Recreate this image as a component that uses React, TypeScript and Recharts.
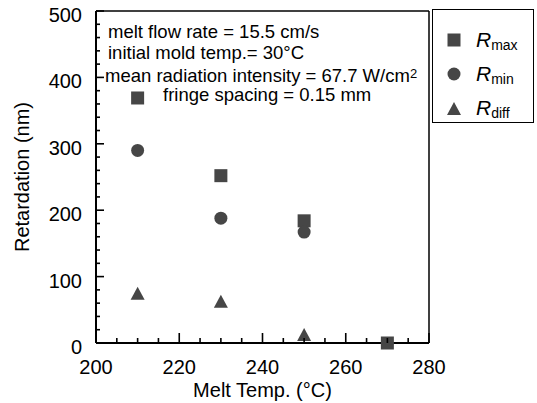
import { ScatterChart, Scatter, XAxis, YAxis, Legend } from 'recharts'

const TEMP_MAX = [210, 230, 250, 270]
const R_MAX = [369, 252, 184, 0]
const TEMP_MIN = [210, 230, 250]
const R_MIN = [290, 188, 167]
const TEMP_DIFF = [210, 230, 250]
const R_DIFF = [74, 62, 12]

const X_TICKS = [200, 205, 210, 215, 220, 225, 230, 235, 240, 245, 250, 255, 260, 265, 270, 275, 280]
const X_LABELS = [200, 220, 240, 260, 280]
const Y_TICKS = [0, 20, 40, 60, 80, 100, 120, 140, 160, 180, 200, 220, 240, 260, 280, 300, 320, 340, 360, 380, 400, 420, 440, 460, 480, 500]
const Y_LABELS = [0, 100, 200, 300, 400, 500]

const SERIES = ['Rmax', 'Rmin', 'Rdiff']
const SERIES_SUB = ['max', 'min', 'diff']

const NOTES = [
  'melt flow rate = 15.5 cm/s',
  'initial mold temp.= 30°C',
  'mean radiation intensity = 67.7 W/cm',
  'fringe spacing = 0.15 mm',
]

const INK = '#464646'
const FONT = '"Liberation Sans", Arial, Helvetica, sans-serif'

const maxData = TEMP_MAX.map((t, i) => ({ t, r: R_MAX[i] }))
const minData = TEMP_MIN.map((t, i) => ({ t, r: R_MIN[i] }))
const diffData = TEMP_DIFF.map((t, i) => ({ t, r: R_DIFF[i] }))

function SquareDot({ cx, cy }: any) {
  return <rect x={cx - 6.5} y={cy - 6.5} width={13} height={13} fill={INK} />
}
function CircleDot({ cx, cy }: any) {
  return <circle cx={cx} cy={cy} r={6.5} fill={INK} />
}
function TriangleDot({ cx, cy }: any) {
  return <polygon points={`${cx},${cy - 7} ${cx + 7},${cy + 6} ${cx - 7},${cy + 6}`} fill={INK} />
}

function XTick({ x, y, payload }: any) {
  const major = X_LABELS.includes(payload.value)
  return (
    <g>
      <line x1={x} y1={y} x2={x} y2={y - (major ? 10 : 5)} stroke="#000" strokeWidth={1.6} />
      {major && (
        <text x={x} y={y + 31} textAnchor="middle" fontSize={20} fontFamily={FONT} fill="#000">
          {payload.value}
        </text>
      )}
    </g>
  )
}

function YTick({ x, y, payload }: any) {
  const major = Y_LABELS.includes(payload.value)
  return (
    <g>
      <line x1={x} y1={y} x2={x + (major ? 8 : 4)} y2={y} stroke="#000" strokeWidth={1.6} />
      {major && (
        <text x={x - 14} y={y + 11} textAnchor="end" fontSize={20} fontFamily={FONT} fill="#000">
          {payload.value}
        </text>
      )}
    </g>
  )
}

function LegendMarker({ name }: { name: string }) {
  return (
    <svg width={16} height={16} style={{ display: 'block' }}>
      {name === 'Rmax' && <SquareDot cx={8} cy={8} />}
      {name === 'Rmin' && <CircleDot cx={8} cy={8} />}
      {name === 'Rdiff' && <TriangleDot cx={8} cy={9} />}
    </svg>
  )
}

function LegendBox({ payload }: any) {
  const names = (payload || []).map((p: any) => p.value)
  const ordered = SERIES.filter((s) => names.includes(s))
  return (
    <div
      style={{
        width: 102,
        height: 114,
        border: '1.5px solid #000',
        boxSizing: 'border-box',
        background: '#fff',
        fontFamily: FONT,
        paddingTop: 14,
      }}
    >
      {ordered.map((name) => (
        <div key={name} style={{ display: 'flex', alignItems: 'center', height: 37, marginTop: -3 }}>
          <div style={{ marginLeft: 13, marginRight: 14 }}>
            <LegendMarker name={name} />
          </div>
          <span style={{ fontSize: 21, fontStyle: 'italic' }}>R</span>
          <span style={{ fontSize: 14, position: 'relative', top: 5 }}>{SERIES_SUB[SERIES.indexOf(name)]}</span>
        </div>
      ))}
    </div>
  )
}

export default function App() {
  return (
    <div style={{ position: 'absolute', left: 0, top: 0, width: 537, height: 403, background: '#fff', fontFamily: FONT }}>
      <ScatterChart width={537} height={403} margin={{ top: 0, right: 0, bottom: 0, left: 0 }}>
        <XAxis
          type="number"
          dataKey="t"
          domain={[200, 280]}
          ticks={X_TICKS}
          interval={0}
          height={60}
          tickSize={0}
          tickMargin={0}
          tick={<XTick />}
          axisLine={{ stroke: '#000', strokeWidth: 2 }}
          tickLine={false}
          label={{ value: 'Melt Temp. (°C)', position: 'insideBottom', offset: 6, fontSize: 20, fontFamily: FONT, fill: '#000' }}
        />
        <XAxis
          xAxisId="top"
          orientation="top"
          type="number"
          dataKey="t"
          domain={[200, 280]}
          height={11}
          tick={false}
          tickLine={false}
          axisLine={{ stroke: '#000', strokeWidth: 1.5 }}
        />
        <YAxis
          type="number"
          dataKey="r"
          domain={[0, 500]}
          ticks={Y_TICKS}
          interval={0}
          width={96}
          tickSize={0}
          tickMargin={0}
          tick={<YTick />}
          axisLine={{ stroke: '#000', strokeWidth: 2 }}
          tickLine={false}
          label={{ value: 'Retardation (nm)', angle: -90, position: 'insideLeft', offset: 22, fontSize: 20, fontFamily: FONT, fill: '#000', style: { textAnchor: 'middle' } }}
        />
        <YAxis
          yAxisId="right"
          orientation="right"
          type="number"
          dataKey="r"
          domain={[0, 500]}
          width={108}
          tick={false}
          tickLine={false}
          axisLine={{ stroke: '#000', strokeWidth: 1.5 }}
        />
        <Scatter name="Rmax" data={maxData} fill={INK} shape={<SquareDot />} isAnimationActive={false} />
        <Scatter name="Rmin" data={minData} fill={INK} shape={<CircleDot />} isAnimationActive={false} />
        <Scatter name="Rdiff" data={diffData} fill={INK} shape={<TriangleDot />} isAnimationActive={false} />
        <Legend
          layout="vertical"
          align="center"
          verticalAlign="middle"
          wrapperStyle={{ left: 432, top: 9, width: 102 }}
          content={<LegendBox />}
        />
      </ScatterChart>
      <div style={{ position: 'absolute', left: 0, top: 0, pointerEvents: 'none', fontSize: 18.5, lineHeight: '18px', color: '#000' }}>
        <div style={{ position: 'absolute', left: 108, top: 23, whiteSpace: 'nowrap' }}>{NOTES[0]}</div>
        <div style={{ position: 'absolute', left: 108, top: 44, whiteSpace: 'nowrap' }}>{NOTES[1]}</div>
        <div style={{ position: 'absolute', left: 105, top: 67, whiteSpace: 'nowrap' }}>
          {NOTES[2]}
          <sup style={{ fontSize: 13, verticalAlign: 'top', lineHeight: '13px' }}>2</sup>
        </div>
        <div style={{ position: 'absolute', left: 163, top: 86, whiteSpace: 'nowrap' }}>{NOTES[3]}</div>
      </div>
    </div>
  )
}
